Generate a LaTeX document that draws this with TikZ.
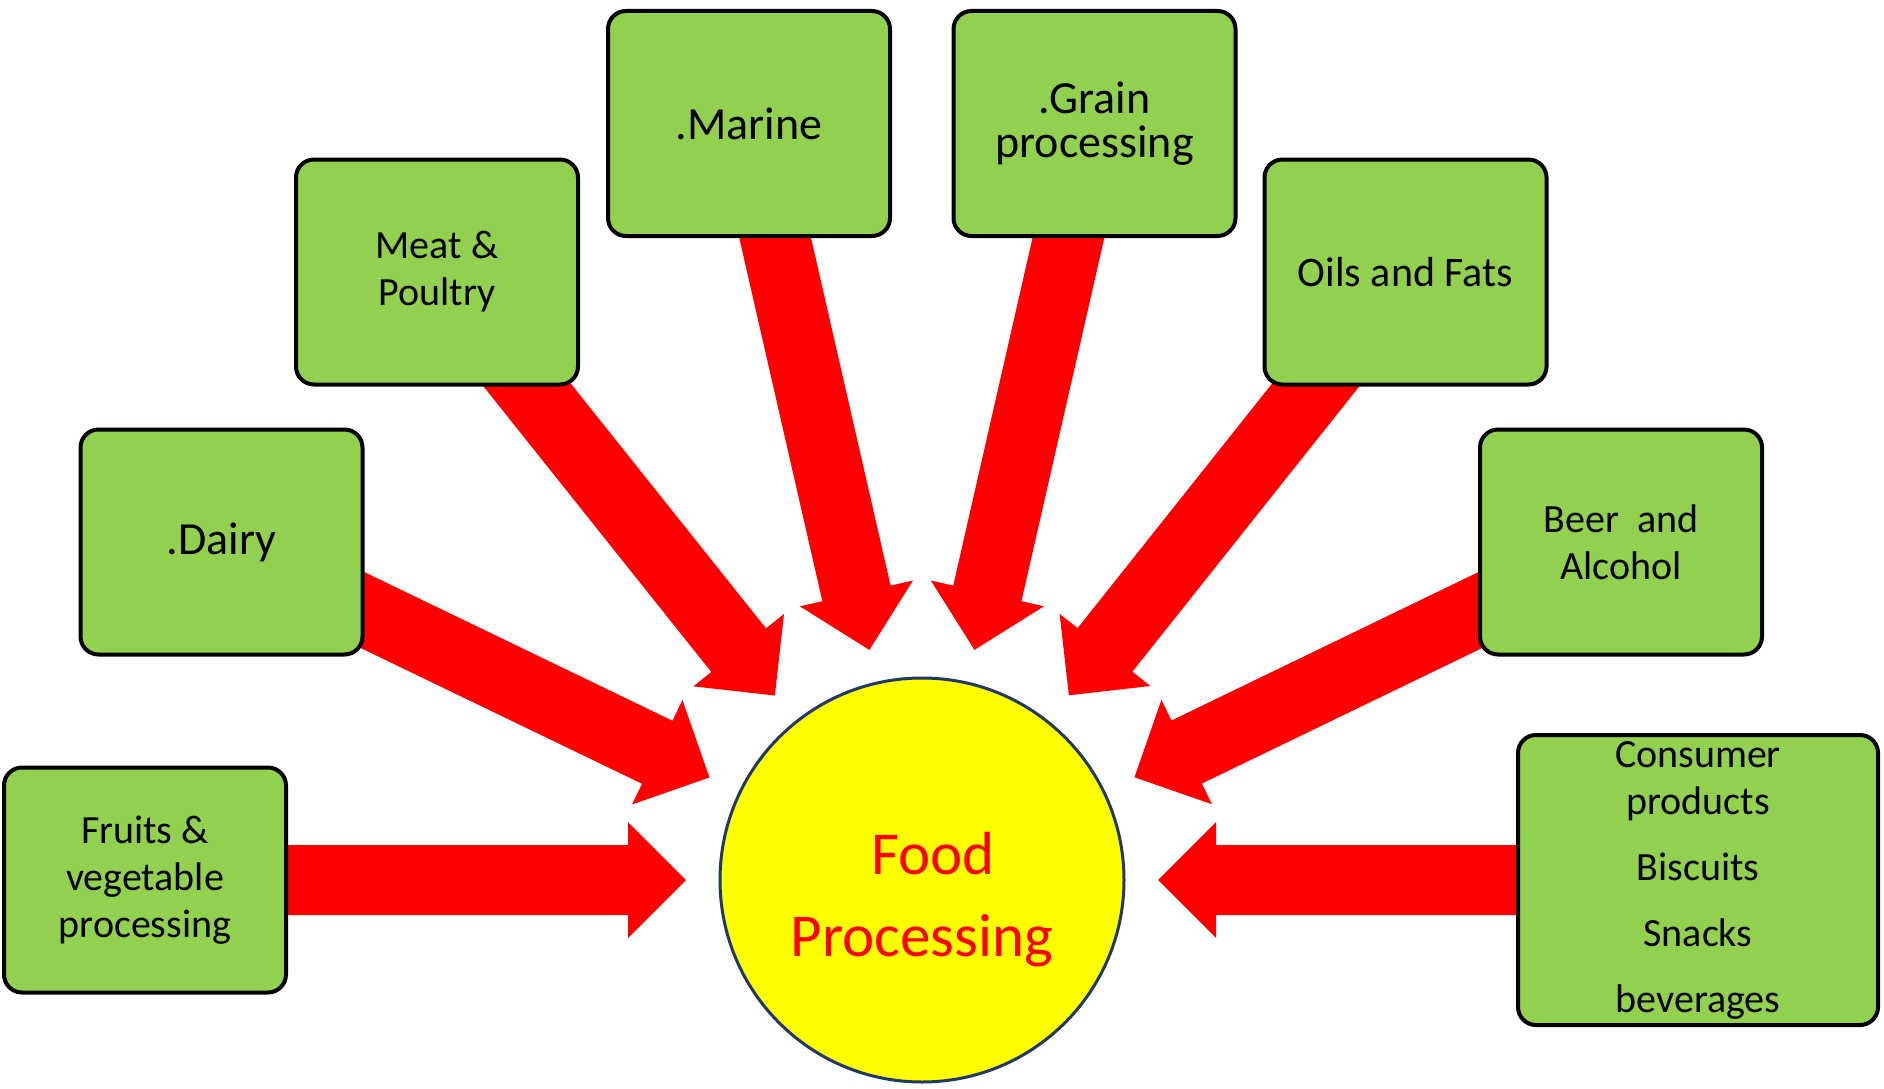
\documentclass[tikz,border=0pt]{standalone}
\usepackage{fontspec}
\setmainfont{Carlito}
\usetikzlibrary{calc}
\pgfdeclarelayer{bg}
\pgfsetlayers{bg,main}
\definecolor{boxgreen}{HTML}{92D050}
\definecolor{arrowred}{HTML}{FF0000}
\definecolor{fpyellow}{HTML}{FFFF00}
\definecolor{fpnavy}{HTML}{1F3864}
\tikzset{
  catbox/.style={draw=black, line width=4pt, fill=boxgreen, rounded corners=18pt,
    minimum width=282pt, minimum height=225pt, align=center, inner sep=2pt, text=black},
  bigtext/.style={font=\fontsize{46}{44}\selectfont},
  midtext/.style={font=\fontsize{40}{47}\selectfont},
  redarrow/.style={fill=arrowred},
}
\newcommand{\fparrow}[1]{%
  \coordinate (tip#1) at ($(fp.center)!236pt!(#1.center)$);
  \coordinate (hb#1) at ($(tip#1)!58pt!(#1.center)$);
  \fill[redarrow] ($(#1.center)!35pt!90:(tip#1)$) -- ($(hb#1)!35pt!90:(tip#1)$)
    -- ($(hb#1)!58pt!90:(tip#1)$) -- (tip#1) -- ($(hb#1)!58pt!-90:(tip#1)$)
    -- ($(hb#1)!35pt!-90:(tip#1)$) -- ($(#1.center)!35pt!-90:(tip#1)$) -- cycle;
}
\begin{document}
\begin{tikzpicture}[x=1pt,y=-1pt]
\useasboundingbox (0,0) rectangle (1884,1089);
\node[catbox,bigtext] (marine) at (749,123.5) {.Marine};
\node[catbox,bigtext] (grain) at (1094.5,123.5) {.Grain\\processing};
\node[catbox,midtext] (meat) at (437,272) {Meat \&\\Poultry};
\node[catbox,font=\fontsize{42}{47}\selectfont] (oils) at (1405.5,272) {Oils and Fats};
\node[catbox,bigtext] (dairy) at (221.5,542) {.Dairy};
\node[catbox,midtext] (beer) at (1621,542) {Beer\ \ and\\Alcohol};
\node[catbox,midtext] (fruits) at (145,880) {Fruits \&\\vegetable\\processing};
\node[catbox,midtext,minimum width=360pt,minimum height=290pt] (consumer) at (1698,880)
  {Consumer\\products\\[19pt]Biscuits\\[19pt]Snacks\\[19pt]beverages};
\node[circle, draw=fpnavy, line width=3pt, fill=fpyellow, minimum size=404pt, inner sep=0pt] (fp) at (922,880) {};
\node[text=arrowred, font=\fontsize{61}{82}\selectfont, align=center, inner sep=0pt] (fptext) at (922,900)
  {\hspace*{22pt}Food\\Processing};
\begin{pgfonlayer}{bg}
\fill[white] (0,0) rectangle (1884,1089);
\fparrow{fruits}
\fparrow{dairy}
\fparrow{meat}
\fparrow{marine}
\fparrow{grain}
\fparrow{oils}
\fparrow{beer}
\fparrow{consumer}
\end{pgfonlayer}
\end{tikzpicture}
\end{document}
